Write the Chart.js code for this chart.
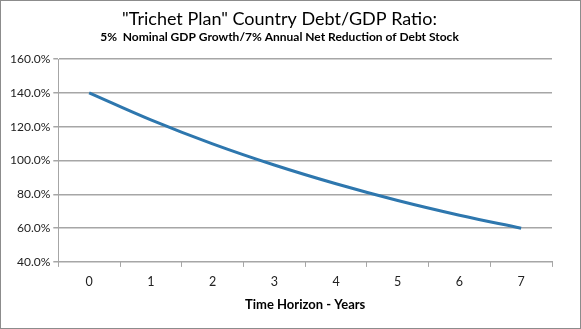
<!DOCTYPE html>
<html lang="en">
<head>
  <meta charset="UTF-8"/>
  <title>Trichet Plan Debt/GDP</title>
  <script src="https://cdn.jsdelivr.net/npm/chart.js"></script>
  <style>
    html, body { margin: 0; padding: 0; background: #fff; }
    /* thin grey frame round the whole picture, like the original */
    .frame {
      width: 579px;
      height: 327px;
      border: 1px solid #8c8c8c;
    }
  </style>
</head>
<body>
  <div class="frame">
    <canvas id="debtChart" width="579" height="327"></canvas>
  </div>

  <script>
    // Data
    const years = ['0', '1', '2', '3', '4', '5', '6', '7'];
    const debtRatio = [140.0, 124.0, 109.8, 97.3, 86.2, 76.3, 67.6, 59.9];
    const yTicks = [40, 60, 80, 100, 120, 140, 160];

    const fontFamily = "Lato, 'Open Sans', sans-serif";
    const gridColor = '#a6a6a6';

    const ctx = document.getElementById('debtChart').getContext('2d');
    new Chart(ctx, {
      type: 'line',
      data: {
        labels: years,
        datasets: [{
          data: debtRatio,
          borderColor: '#2e77ae',
          borderWidth: 3,
          pointRadius: 0,
          tension: 0.4,
          fill: false
        }]
      },
      options: {
        responsive: false,
        animation: false,
        layout: { padding: { left: 6, right: 28, top: 0, bottom: 13 } },
        plugins: {
          legend: { display: false },
          tooltip: { enabled: false },
          title: {
            display: true,
            text: '"Trichet Plan" Country Debt/GDP Ratio:',
            color: '#000',
            font: { family: fontFamily, size: 18, weight: 'normal' },
            padding: { top: 7, bottom: 0 }
          },
          subtitle: {
            display: true,
            text: '5%  Nominal GDP Growth/7% Annual Net Reduction of Debt Stock',
            color: '#000',
            font: { family: fontFamily, size: 12, weight: 'bold' },
            padding: { top: 0, bottom: 15 }
          }
        },
        scales: {
          x: {
            offset: true,
            grid: {
              display: true,
              offset: true,
              drawOnChartArea: false,
              color: gridColor,
              tickLength: 5
            },
            border: { color: gridColor, width: 1 },
            ticks: {
              color: '#222',
              font: { family: fontFamily, size: 12.5, lineHeight: 1 },
              padding: 9
            },
            title: {
              display: true,
              text: 'Time Horizon - Years',
              color: '#000',
              font: { family: fontFamily, size: 13, weight: 'bold' },
              padding: { top: 0, bottom: 2 }
            }
          },
          y: {
            min: 40,
            max: 160,
            afterBuildTicks: axis => {
              axis.ticks = yTicks.map(v => ({ value: v }));
            },
            grid: {
              color: gridColor,
              lineWidth: 1.5,
              tickLength: 5
            },
            border: { color: gridColor, width: 1 },
            ticks: {
              color: '#222',
              font: { family: fontFamily, size: 12 },
              padding: 3,
              callback: v => v.toFixed(1) + '%'
            }
          }
        }
      }
    });
  </script>
</body>
</html>
